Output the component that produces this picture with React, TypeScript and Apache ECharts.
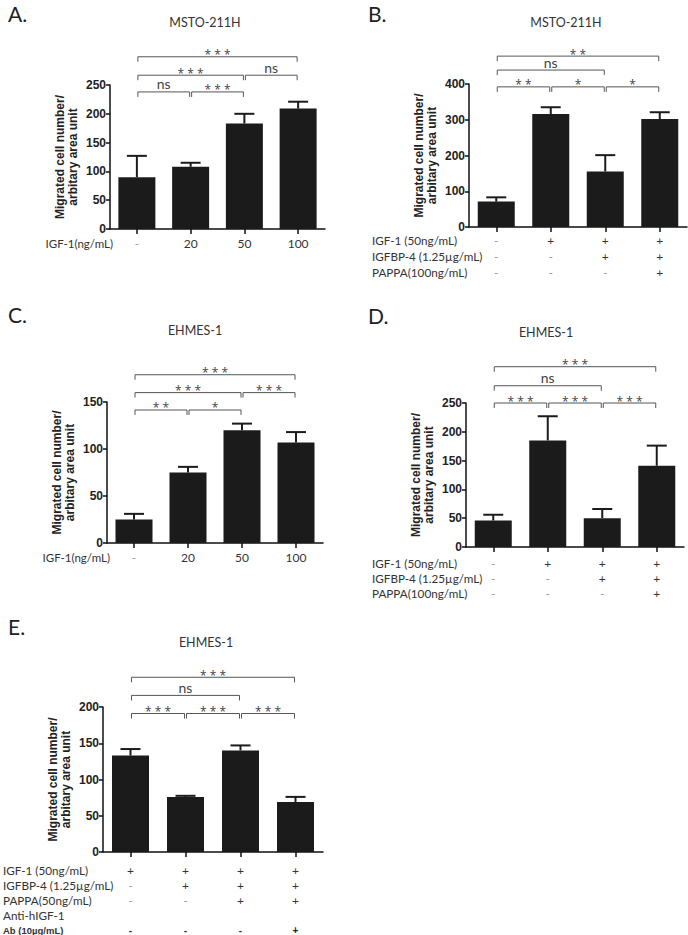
import React, { useEffect, useRef } from "react";
import * as echarts from "echarts";

// ---------- Data ----------
const aCategories = ["-", "20", "50", "100"];
const aMeans = [90, 108, 183, 209];
const aSem = [37, 7, 17, 12];
const aBrackets = [[0, 1, 238], [1, 2, 238], [0, 2, 267], [2, 3, 267], [0, 3, 299]];
const aBracketLabels = ["ns", "***", "***", "ns", "***"];

const bRows = [
  ["-", "+", "+", "+"],
  ["-", "-", "+", "+"],
  ["-", "-", "-", "+"],
];
const bRowTitles = ["IGF-1 (50ng/mL)", "IGFBP-4 (1.25µg/mL)", "PAPPA(100ng/mL)"];
const bMeans = [71, 316, 155, 302];
const bSem = [12, 19, 46, 19];
const bBrackets = [[0, 1, 392], [1, 2, 392], [2, 3, 392], [0, 2, 439], [0, 3, 478]];
const bBracketLabels = ["**", "*", "*", "ns", "**"];

const cCategories = ["-", "20", "50", "100"];
const cMeans = [25, 75, 120, 107];
const cSem = [6, 6, 7, 11];
const cBrackets = [[0, 1, 141.5], [1, 2, 141.5], [0, 2, 160], [2, 3, 160], [0, 3, 179]];
const cBracketLabels = ["**", "*", "***", "***", "***"];

const dRows = [
  ["-", "+", "+", "+"],
  ["-", "-", "+", "+"],
  ["-", "-", "-", "+"],
];
const dRowTitles = ["IGF-1 (50ng/mL)", "IGFBP-4 (1.25µg/mL)", "PAPPA(100ng/mL)"];
const dMeans = [46, 185, 50, 141];
const dSem = [10, 42, 16, 35];
const dBrackets = [[0, 1, 250], [1, 2, 250], [2, 3, 250], [0, 2, 280], [0, 3, 313]];
const dBracketLabels = ["***", "***", "***", "ns", "***"];

const eRows = [
  ["+", "+", "+", "+"],
  ["-", "+", "+", "+"],
  ["-", "-", "+", "+"],
  ["", "", "", ""],
  ["-", "-", "-", "+"],
];
const eRowTitles = ["IGF-1 (50ng/mL)", "IGFBP-4 (1.25µg/mL)", "PAPPA(50ng/mL)", "Anti-hIGF-1", "Ab (10µg/mL)"];
const eMeans = [133, 76, 140, 69];
const eSem = [9, 1.5, 7, 7];
const eBrackets = [[0, 1, 191], [1, 2, 191], [2, 3, 191], [0, 2, 216], [0, 3, 241]];
const eBracketLabels = ["***", "***", "***", "ns", "***"];

const yName = "Migrated cell number/\narbitary area unit";

// ---------- Layout ----------
const panels = [
  { letter: "A.", title: "MSTO-211H", titleX: 205, titleY: 22, letterX: 8, letterY: 14,
    grid: { left: 110, top: 85, width: 215, height: 144 }, max: 250, interval: 50,
    cats: aCategories, rows: null, rowTitles: ["IGF-1(ng/mL)"], rowTitleX: 113, rowAlign: "right", rowFs: 11.5,
    means: aMeans, sem: aSem, brackets: aBrackets, labels: aBracketLabels, margin: 6, lh: 16 },
  { letter: "B.", title: "MSTO-211H", titleX: 566, titleY: 22, letterX: 368, letterY: 14,
    grid: { left: 469, top: 84, width: 218, height: 143 }, max: 400, interval: 100,
    cats: null, rows: bRows, rowTitles: bRowTitles, rowTitleX: 372, rowAlign: "left", rowFs: 11.7,
    means: bMeans, sem: bSem, brackets: bBrackets, labels: bBracketLabels, margin: 5, lh: 16 },
  { letter: "C.", title: "EHMES-1", titleX: 195, titleY: 330, letterX: 8, letterY: 315,
    grid: { left: 107, top: 402, width: 216, height: 141 }, max: 150, interval: 50,
    cats: cCategories, rows: null, rowTitles: ["IGF-1(ng/mL)"], rowTitleX: 110, rowAlign: "right", rowFs: 11.5,
    means: cMeans, sem: cSem, brackets: cBrackets, labels: cBracketLabels, margin: 6, lh: 16 },
  { letter: "D.", title: "EHMES-1", titleX: 546, titleY: 332, letterX: 368, letterY: 316,
    grid: { left: 466, top: 403, width: 218, height: 144 }, max: 250, interval: 50,
    cats: null, rows: dRows, rowTitles: dRowTitles, rowTitleX: 372, rowAlign: "left", rowFs: 11.7,
    means: dMeans, sem: dSem, brackets: dBrackets, labels: dBracketLabels, margin: 8.5, lh: 15 },
  { letter: "E.", title: "EHMES-1", titleX: 206, titleY: 642, letterX: 8, letterY: 627,
    grid: { left: 103, top: 707, width: 220, height: 145 }, max: 200, interval: 50,
    cats: null, rows: eRows, rowTitles: eRowTitles, rowTitleX: 3, rowAlign: "left", rowFs: 11.7,
    means: eMeans, sem: eSem, brackets: eBrackets, labels: eBracketLabels, margin: 10.5, lh: 15, boldLast: true },
];

const TXT = "Lato, 'Open Sans', sans-serif";
const ARIAL = "'Liberation Sans', Arial, sans-serif";

function buildOption() {
  const grid: any[] = [];
  const xAxis: any[] = [];
  const yAxis: any[] = [];
  const series: any[] = [];
  const graphic: any[] = [];

  panels.forEach((p: any, idx) => {
    grid.push({ ...p.grid, containLabel: false });
    const catData = p.cats ? p.cats : p.means.map((_: any, i: number) => String(i));
    const lastBold = !!p.boldLast;
    const rich: any = {
      p: { fontFamily: TXT, fontSize: 12, color: "#333333", lineHeight: p.lh, align: "center" },
      m: { fontFamily: TXT, fontSize: 12, color: "#999999", lineHeight: p.lh, align: "center" },
      n: { fontFamily: TXT, fontSize: 12, color: "#333333", lineHeight: p.lh, align: "center" },
      e: { fontFamily: TXT, fontSize: 12, color: "#333333", lineHeight: p.lh },
      bp: { fontFamily: ARIAL, fontWeight: "bold", fontSize: 10, color: "#222222", lineHeight: p.lh },
      bm: { fontFamily: ARIAL, fontWeight: "bold", fontSize: 10, color: "#333333", lineHeight: p.lh },
    };
    xAxis.push({
      type: "category",
      gridIndex: idx,
      data: catData,
      axisLine: { lineStyle: { color: "#111", width: 1.5 } },
      axisTick: { show: true, alignWithLabel: true, length: 5, lineStyle: { color: "#111", width: 1.5 } },
      axisLabel: {
        interval: 0,
        margin: p.margin,
        color: "#333333",
        rich,
        formatter: (v: string, i: number) => {
          if (p.cats) {
            return v === "-" ? "{m|-}" : "{n|" + v + "}";
          }
          return p.rows
            .map((r: string[], ri: number) => {
              const s = r[i];
              const isLast = lastBold && ri === p.rows.length - 1;
              if (s === "") return "{e| }";
              if (isLast) return s === "+" ? "{bp|+}" : "{bm|-}";
              return s === "+" ? "{p|+}" : "{m|-}";
            })
            .join("\n");
        },
      },
    });
    yAxis.push({
      type: "value",
      gridIndex: idx,
      min: 0,
      max: p.max,
      interval: p.interval,
      splitLine: { show: false },
      axisLine: { show: true, lineStyle: { color: "#111", width: 1.5 } },
      axisTick: { show: true, length: 4, lineStyle: { color: "#111", width: 1.5 } },
      axisLabel: { fontFamily: ARIAL, fontWeight: "bold", fontSize: 12, color: "#222", margin: 4 },
      name: yName,
      nameLocation: "middle",
      nameRotate: 90,
      nameGap: 31,
      nameTextStyle: { fontFamily: ARIAL, fontWeight: "bold", fontSize: 12, lineHeight: 13, color: "#222" },
    });
    series.push({
      type: "bar",
      xAxisIndex: idx,
      yAxisIndex: idx,
      data: p.means,
      barWidth: 37,
      itemStyle: { color: "#1b1b1b" },
      z: 2,
    });
    series.push({
      type: "custom",
      xAxisIndex: idx,
      yAxisIndex: idx,
      z: 3,
      encode: { x: 0, y: [1, 2] },
      data: p.means.map((m: number, i: number) => [i, m, m + p.sem[i]]),
      renderItem: (params: any, api: any) => {
        const i = api.value(0);
        const p0 = api.coord([i, api.value(1)]);
        const p1 = api.coord([i, api.value(2)]);
        return {
          type: "group",
          children: [
            { type: "line", shape: { x1: p0[0], y1: p0[1], x2: p1[0], y2: p1[1] }, style: { stroke: "#1b1b1b", lineWidth: 2 } },
            { type: "line", shape: { x1: p1[0] - 10, y1: p1[1], x2: p1[0] + 10, y2: p1[1] }, style: { stroke: "#1b1b1b", lineWidth: 2 } },
          ],
        };
      },
    });
    series.push({
      type: "custom",
      xAxisIndex: idx,
      yAxisIndex: idx,
      z: 4,
      clip: false,
      encode: { x: [0, 1], y: 2 },
      data: p.brackets,
      renderItem: (params: any, api: any) => {
        const a = api.coord([api.value(0), api.value(2)]);
        const b = api.coord([api.value(1), api.value(2)]);
        const l = a[0] + 1;
        const r = b[0] - 1;
        const y = a[1];
        const label = p.labels[params.dataIndex];
        const isNs = label === "ns";
        return {
          type: "group",
          children: [
            {
              type: "polyline",
              shape: { points: [[l, y + 5], [l, y], [r, y], [r, y + 5]] },
              style: { stroke: "#555", lineWidth: 1, fill: null },
            },
            {
              type: "text",
              style: {
                text: isNs ? label : label.split("").join(" "),
                x: (l + r) / 2,
                y: isNs ? y - 1 : y + 4,
                align: "center",
                verticalAlign: "bottom",
                fontFamily: isNs ? TXT : "'Open Sans', sans-serif",
                fontSize: isNs ? 14 : 12,
                fill: "#444",
              },
            },
          ],
        };
      },
    });

    // panel letter & title
    graphic.push({
      type: "text",
      left: p.letterX,
      top: p.letterY - 11,
      style: { text: p.letter, fontFamily: TXT, fontSize: 21, fill: "#222" },
    });
    graphic.push({
      type: "text",
      x: p.titleX,
      y: p.titleY,
      style: { text: p.title, fontFamily: TXT, fontSize: 12.5, fill: "#333", align: "center", verticalAlign: "middle" },
    });
    // row titles
    const baseY = p.grid.top + p.grid.height + p.margin;
    p.rowTitles.forEach((t: string, ri: number) => {
      const isLastBold = lastBold && ri === p.rowTitles.length - 1;
      graphic.push({
        type: "text",
        x: p.rowTitleX,
        y: baseY + p.lh * (ri + 0.5),
        style: {
          text: t,
          fontFamily: isLastBold ? ARIAL : TXT,
          fontWeight: isLastBold ? "bold" : "normal",
          fontSize: isLastBold ? 9.5 : p.rowFs,
          fill: "#333",
          align: p.rowAlign,
          verticalAlign: "middle",
        },
      });
    });
  });

  return {
    animation: false,
    backgroundColor: "#ffffff",
    grid,
    xAxis,
    yAxis,
    series,
    graphic,
  };
}

export default function App() {
  const ref = useRef<HTMLDivElement>(null);
  useEffect(() => {
    document.body.style.margin = "0";
    if (!ref.current) return;
    const chart = echarts.init(ref.current, undefined, { renderer: "svg" });
    chart.setOption(buildOption() as any);
    return () => chart.dispose();
  }, []);
  return <div ref={ref} style={{ width: 688, height: 935, position: "absolute", left: 0, top: 0 }} />;
}
